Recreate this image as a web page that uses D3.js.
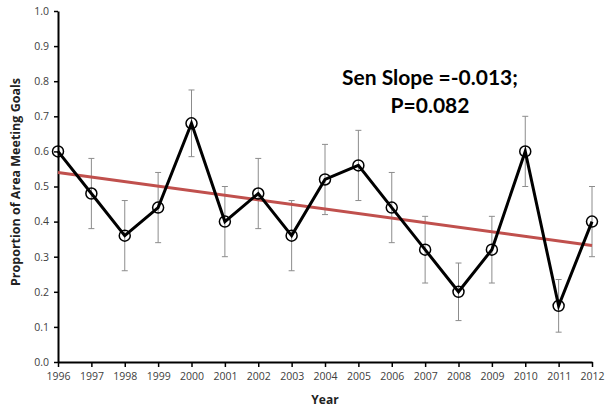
<!DOCTYPE html>
<html>
<head>
<meta charset="utf-8">
<script src="https://cdn.jsdelivr.net/npm/d3@7/dist/d3.min.js"></script>
<style>
  html, body { margin: 0; padding: 0; background: #fff; }
  svg { display: block; }
  .tick text { font-family: "Open Sans", "Noto Sans", sans-serif; font-size: 10.5px; fill: #404040; }
</style>
</head>
<body>
<svg id="chart" width="606" height="413"></svg>
<script>
// Proportion of area meeting goals, by year, with ± error and Sen slope trend
const years = [1996, 1997, 1998, 1999, 2000, 2001, 2002, 2003, 2004, 2005, 2006, 2007, 2008, 2009, 2010, 2011, 2012];
const proportion = [0.60, 0.48, 0.36, 0.44, 0.68, 0.40, 0.48, 0.36, 0.52, 0.56, 0.44, 0.32, 0.20, 0.32, 0.60, 0.16, 0.40];
const errorHalf = [null, 0.10, 0.10, 0.10, 0.095, 0.10, 0.10, 0.10, 0.10, 0.10, 0.10, 0.095, 0.082, 0.095, 0.10, 0.075, 0.10];
const yTicks = [0.0, 0.1, 0.2, 0.3, 0.4, 0.5, 0.6, 0.7, 0.8, 0.9, 1.0];
const senSlope = -0.013;
const trendStart = 0.54;   // trend value at first year
const pValue = 0.082;

const svg = d3.select("#chart");
const margin = { left: 58, right: 14, top: 11, bottom: 51 };
const W = 606, H = 413;

const x = d3.scaleLinear().domain([1996, 2012]).range([margin.left, W - margin.right]);
const y = d3.scaleLinear().domain([0, 1]).range([H - margin.bottom, margin.top]);

// Axes
const xAxis = svg.append("g")
  .attr("transform", `translate(0,${y(0)})`)
  .call(d3.axisBottom(x).tickValues(years).tickFormat(d3.format("d")).tickSize(5).tickSizeOuter(0));
xAxis.select(".domain").attr("stroke", "#000").attr("stroke-width", 2);
xAxis.selectAll(".tick line").attr("stroke", "#000").attr("stroke-width", 1.5);
xAxis.selectAll(".tick text").attr("dy", "0.95em");

const yAxis = svg.append("g")
  .attr("transform", `translate(${x(1996)},0)`)
  .call(d3.axisLeft(y).tickValues(yTicks).tickFormat(d3.format(".1f")).tickSize(4).tickSizeOuter(0));
yAxis.select(".domain").attr("stroke", "#000").attr("stroke-width", 2);
yAxis.selectAll(".tick line").attr("stroke", "#000").attr("stroke-width", 1.5);
yAxis.selectAll(".tick text").attr("x", -9);

// Axis titles
svg.append("text")
  .attr("x", (x(1996) + x(2012)) / 2).attr("y", 404)
  .attr("text-anchor", "middle")
  .attr("font-family", "Open Sans, sans-serif").attr("font-weight", "bold").attr("font-size", 12)
  .attr("fill", "#222")
  .text("Year");

svg.append("text")
  .attr("transform", "translate(20,182) rotate(-90)")
  .attr("text-anchor", "middle")
  .attr("font-family", "Open Sans, sans-serif").attr("font-weight", "bold").attr("font-size", 12.5)
  .attr("fill", "#222")
  .text("Proportion of Area Meeting Goals");

const data = years.map((yr, i) => ({ yr, v: proportion[i], e: errorHalf[i] }));

// Error bars
const eb = svg.append("g").attr("stroke", "#8c8c8c").attr("stroke-width", 1);
data.filter(d => d.e != null).forEach(d => {
  const cx = x(d.yr);
  eb.append("line").attr("x1", cx).attr("x2", cx).attr("y1", y(d.v + d.e)).attr("y2", y(d.v - d.e));
  eb.append("line").attr("x1", cx - 3).attr("x2", cx + 3).attr("y1", y(d.v + d.e)).attr("y2", y(d.v + d.e));
  eb.append("line").attr("x1", cx - 3).attr("x2", cx + 3).attr("y1", y(d.v - d.e)).attr("y2", y(d.v - d.e));
});

// Sen slope trend line
const y0 = years[0], y1 = years[years.length - 1];
svg.append("line")
  .attr("x1", x(y0)).attr("y1", y(trendStart))
  .attr("x2", x(y1)).attr("y2", y(trendStart + senSlope * (y1 - y0)))
  .attr("stroke", "#c0504d").attr("stroke-width", 3);

// Data series
svg.append("path")
  .datum(data)
  .attr("fill", "none").attr("stroke", "#000").attr("stroke-width", 3)
  .attr("stroke-linejoin", "miter")
  .attr("d", d3.line().x(d => x(d.yr)).y(d => y(d.v)));

svg.append("g").selectAll("circle").data(data).join("circle")
  .attr("cx", d => x(d.yr)).attr("cy", d => y(d.v)).attr("r", 5.5)
  .attr("fill", "none").attr("stroke", "#000").attr("stroke-width", 1.5);

// Annotation
const ann = svg.append("text")
  .attr("text-anchor", "middle")
  .attr("font-family", "Lato, sans-serif").attr("font-weight", "bold").attr("font-size", 21)
  .attr("fill", "#000");
ann.append("tspan").attr("x", 430).attr("y", 85).text(`Sen Slope =${senSlope.toFixed(3)};`);
ann.append("tspan").attr("x", 430).attr("y", 113).text(`P=${pValue.toFixed(3)}`);
</script>
</body>
</html>
